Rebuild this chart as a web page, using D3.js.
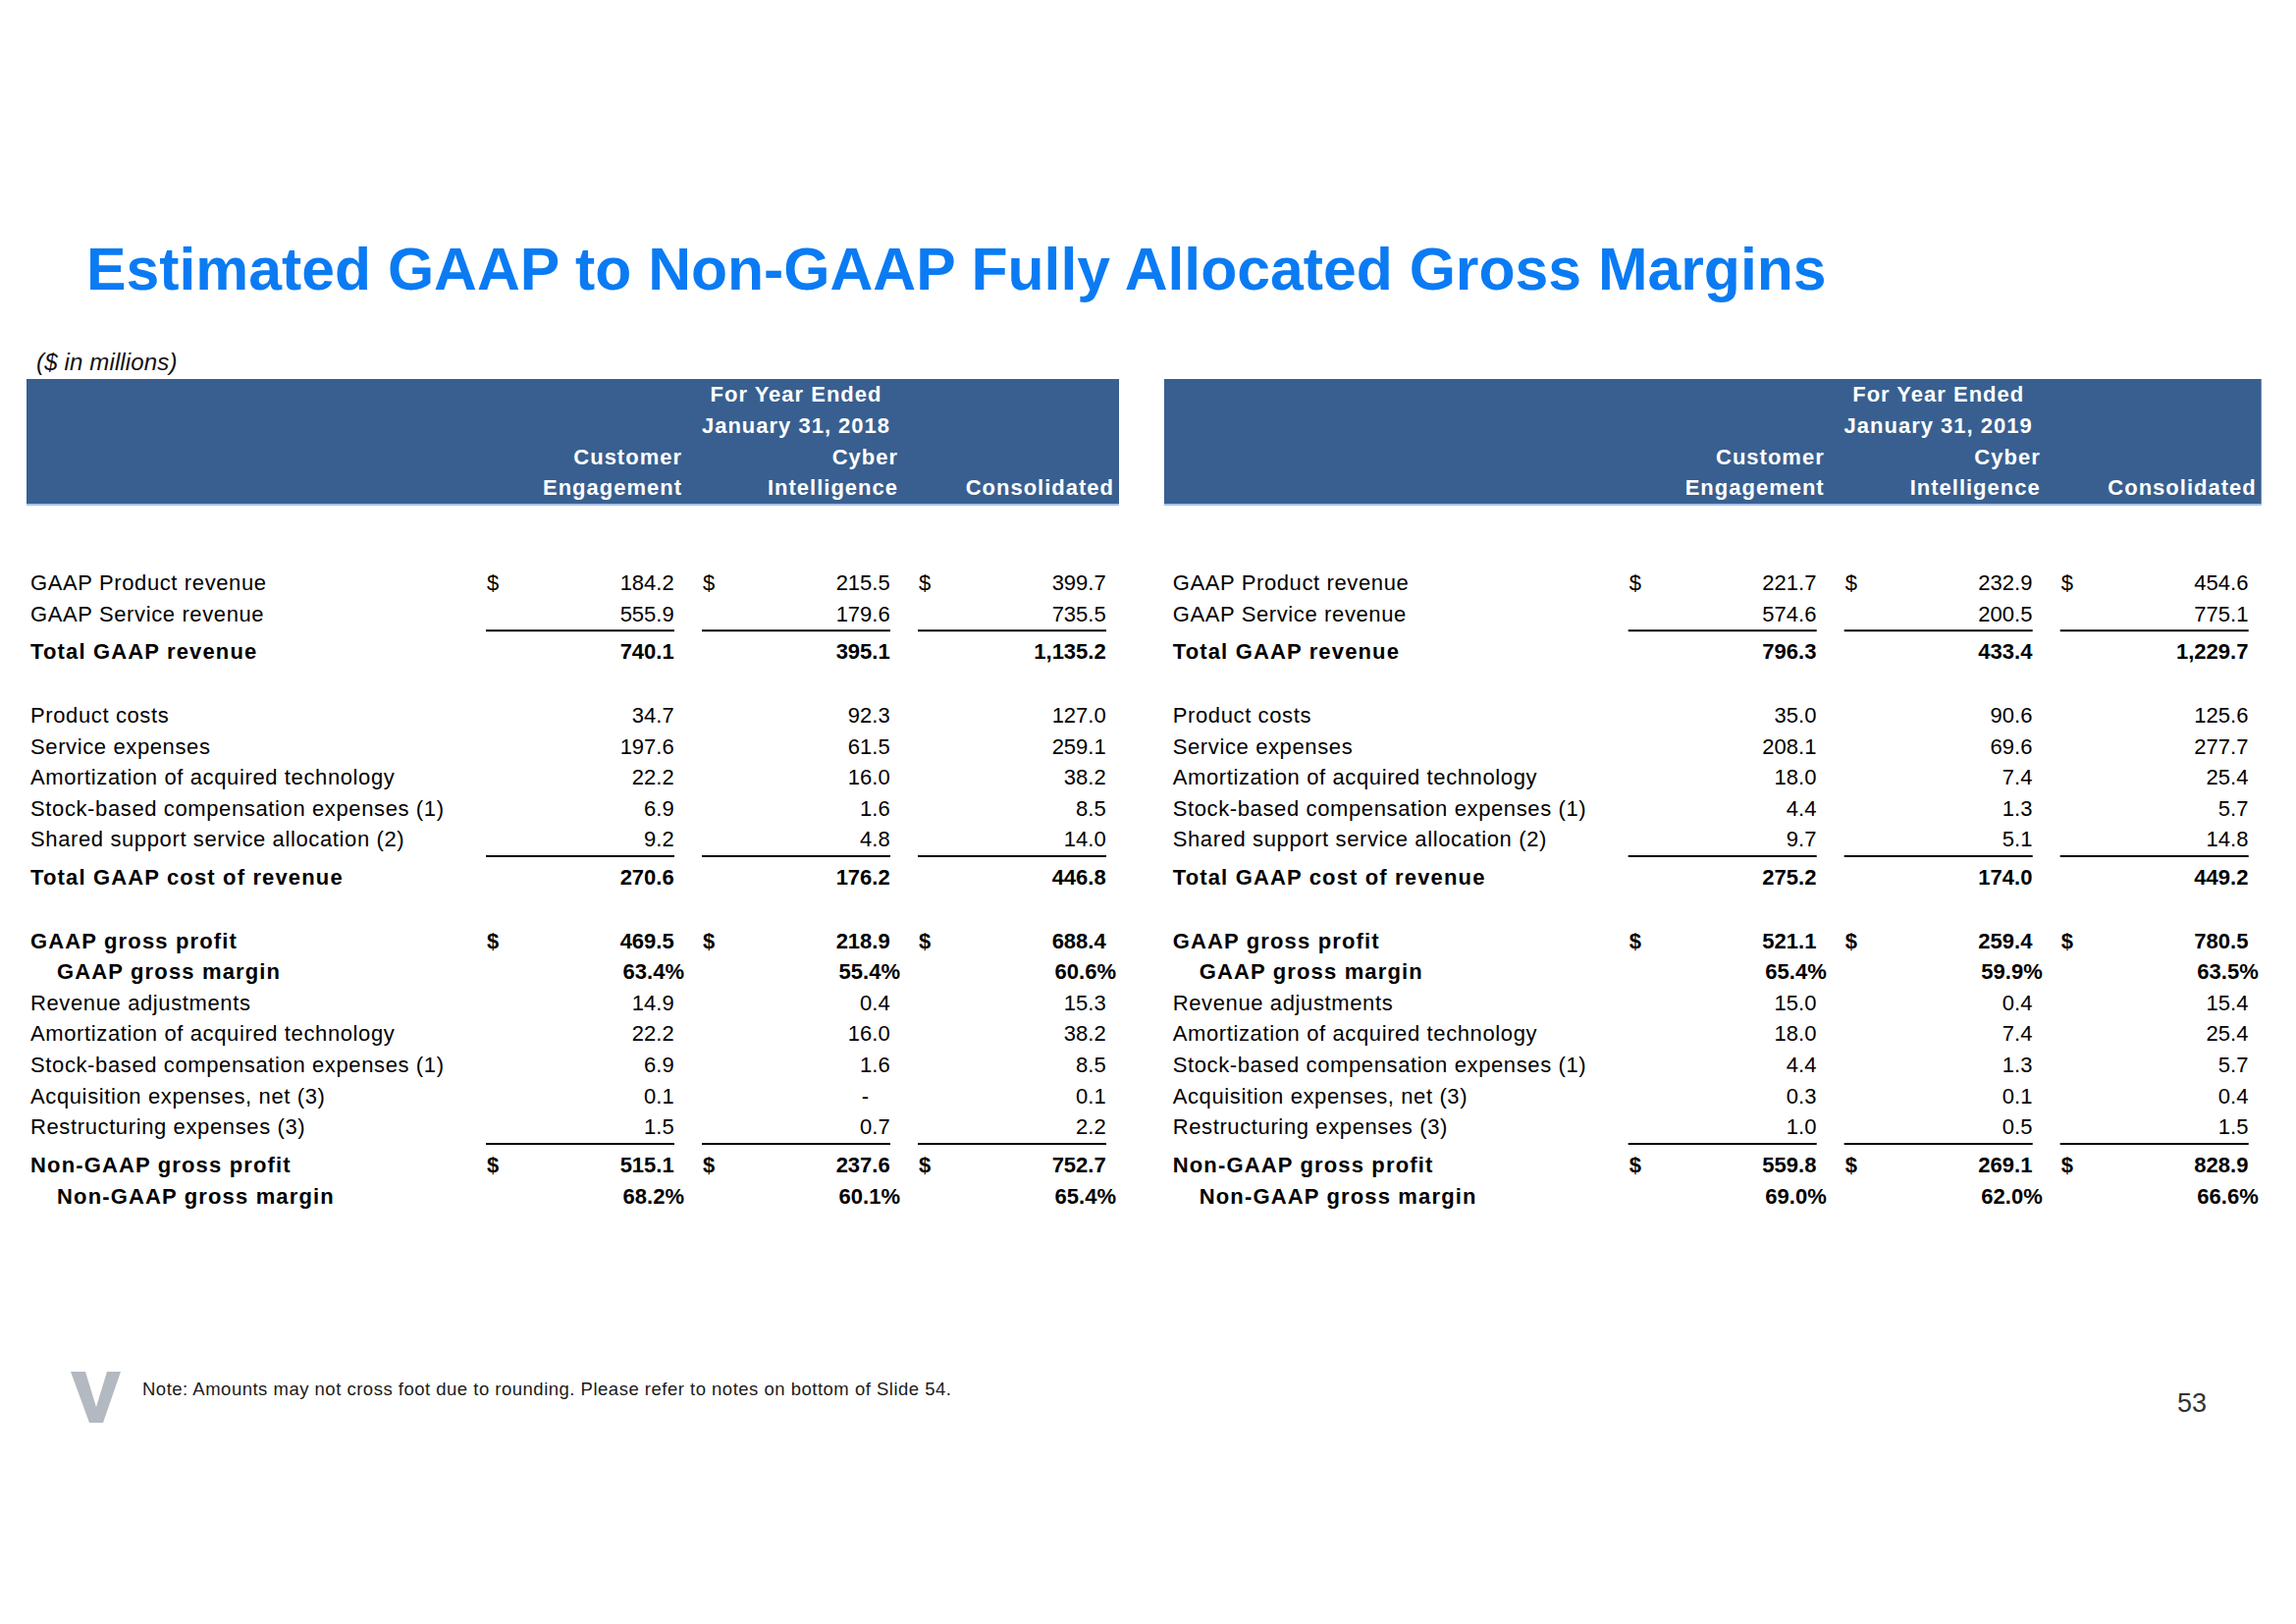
<!DOCTYPE html>
<html><head><meta charset="utf-8">
<script src="https://cdn.jsdelivr.net/npm/d3@7"></script>
<style>
html,body{margin:0;padding:0;background:#fff;}
svg{display:block;}
</style></head><body>
<svg id="chart" width="2339" height="1654"></svg>
<script>
// ---------------- DATA ----------------
const title = "Estimated GAAP to Non-GAAP Fully Allocated Gross Margins";
const unitNote = "($ in millions)";
const footnote = "Note: Amounts may not cross foot due to rounding. Please refer to notes on bottom of Slide 54.";
const pageNumber = "53";
const periodLabels = [["For Year Ended", "January 31, 2018"], ["For Year Ended", "January 31, 2019"]];
const segmentLabels = [["Customer", "Engagement"], ["Cyber", "Intelligence"], ["", "Consolidated"]];
const rowLabels = [
  "GAAP Product revenue",
  "GAAP Service revenue",
  "Total GAAP revenue",
  "Product costs",
  "Service expenses",
  "Amortization of acquired technology",
  "Stock-based compensation expenses (1)",
  "Shared support service allocation (2)",
  "Total GAAP cost of revenue",
  "GAAP gross profit",
  "GAAP gross margin",
  "Revenue adjustments",
  "Amortization of acquired technology",
  "Stock-based compensation expenses (1)",
  "Acquisition expenses, net (3)",
  "Restructuring expenses (3)",
  "Non-GAAP gross profit",
  "Non-GAAP gross margin"
];
const fy2018CustomerEngagement = [184.2, 555.9, 740.1, 34.7, 197.6, 22.2, 6.9, 9.2, 270.6, 469.5, 63.4, 14.9, 22.2, 6.9, 0.1, 1.5, 515.1, 68.2];
const fy2018CyberIntelligence  = [215.5, 179.6, 395.1, 92.3, 61.5, 16.0, 1.6, 4.8, 176.2, 218.9, 55.4, 0.4, 16.0, 1.6, null, 0.7, 237.6, 60.1];
const fy2018Consolidated       = [399.7, 735.5, 1135.2, 127.0, 259.1, 38.2, 8.5, 14.0, 446.8, 688.4, 60.6, 15.3, 38.2, 8.5, 0.1, 2.2, 752.7, 65.4];
const fy2019CustomerEngagement = [221.7, 574.6, 796.3, 35.0, 208.1, 18.0, 4.4, 9.7, 275.2, 521.1, 65.4, 15.0, 18.0, 4.4, 0.3, 1.0, 559.8, 69.0];
const fy2019CyberIntelligence  = [232.9, 200.5, 433.4, 90.6, 69.6, 7.4, 1.3, 5.1, 174.0, 259.4, 59.9, 0.4, 7.4, 1.3, 0.1, 0.5, 269.1, 62.0];
const fy2019Consolidated       = [454.6, 775.1, 1229.7, 125.6, 277.7, 25.4, 5.7, 14.8, 449.2, 780.5, 63.5, 15.4, 25.4, 5.7, 0.4, 1.5, 828.9, 66.6];

// ---------------- STRUCTURE / STYLE ----------------
const panels = [
  [fy2018CustomerEngagement, fy2018CyberIntelligence, fy2018Consolidated],
  [fy2019CustomerEngagement, fy2019CyberIntelligence, fy2019Consolidated]
];
const boldRows = new Set([2, 8, 9, 10, 16, 17]);
const indentRows = new Set([10, 17]);
const dollarRows = new Set([0, 9, 16]);
const percentRows = new Set([10, 17]);
const ruleAfter = new Set([1, 7, 15]);
const gapAfter = new Set([2, 8]);

const FONT = "'Liberation Sans', Arial, Helvetica, sans-serif";
const svg = d3.select("#chart");
svg.append("rect").attr("width", 2339).attr("height", 1654).attr("fill", "#fff");

// row baselines
const baselines = [];
{
  let y = 601;
  rowLabels.forEach((_, i) => {
    baselines.push(y);
    y += ruleAfter.has(i) ? 38.8 : gapAfter.has(i) ? 64.5 : 31.6;
  });
}
const yRow = d3.scaleOrdinal().domain(d3.range(rowLabels.length)).range(baselines);
const panelX = d3.scaleOrdinal().domain([0, 1]).range([0, 1163.7]);
const colEdge = d3.scaleLinear().domain([0, 2]).range([694, 1134]);
const numFmt = d3.format(",.1f");

// title
svg.append("text").attr("x", 88).attr("y", 295)
  .attr("font-family", FONT).attr("font-size", 60.7).attr("font-weight", "bold")
  .attr("fill", "#0B7BF3").text(title);

svg.append("text").attr("x", 37).attr("y", 377)
  .attr("font-family", FONT).attr("font-size", 24).attr("font-style", "italic")
  .attr("letter-spacing", 0.15)
  .attr("fill", "#111").text(unitNote);

panels.forEach((cols, p) => {
  const off = panelX(p);
  const g = svg.append("g").attr("transform", `translate(${off},0)`);
  const boxL = p === 0 ? 27 : 1186 - off;
  // header box
  g.append("rect").attr("x", boxL).attr("y", 386)
    .attr("width", colEdge(2) + 6 - boxL).attr("height", 128)
    .attr("fill", "#385F90");
  g.append("line").attr("x1", boxL).attr("x2", colEdge(2) + 6)
    .attr("y1", 514).attr("y2", 514).attr("stroke", "#A9C3E6").attr("stroke-width", 2);
  const hdr = (x, y, t, anchor) => g.append("text").attr("x", x).attr("y", y)
    .attr("text-anchor", anchor).attr("font-family", FONT).attr("font-size", 22)
    .attr("font-weight", "bold").attr("letter-spacing", 1).attr("fill", "#fff").text(t);
  hdr(colEdge(1) - 103, 409, periodLabels[p][0], "middle");
  hdr(colEdge(1) - 103, 441, periodLabels[p][1], "middle");
  segmentLabels.forEach((s, k) => {
    hdr(colEdge(k) + 1, 473, s[0], "end");
    hdr(colEdge(k) + 1, 504, s[1], "end");
  });

  // labels
  rowLabels.forEach((lab, i) => {
    const b = boldRows.has(i);
    g.append("text").attr("x", indentRows.has(i) ? 58 : 31).attr("y", yRow(i))
      .attr("font-family", FONT).attr("font-size", 22)
      .attr("font-weight", b ? "bold" : "normal")
      .attr("letter-spacing", b ? 1.15 : 0.62)
      .attr("fill", "#000").text(lab);
  });

  // values
  cols.forEach((vals, k) => {
    const e = colEdge(k);
    vals.forEach((v, i) => {
      const b = boldRows.has(i);
      const isPct = percentRows.has(i);
      const t = g.append("text").attr("y", yRow(i)).attr("text-anchor", "end")
        .attr("font-family", FONT).attr("font-size", 22)
        .attr("font-weight", b ? "bold" : "normal").attr("fill", "#000");
      if (v === null) {
        t.attr("x", e - 29).text("-");
      } else if (isPct) {
        t.attr("x", e + 3).text(numFmt(v) + "%");
      } else {
        t.attr("x", e - 7.3).text(numFmt(v));
      }
      if (dollarRows.has(i)) {
        g.append("text").attr("x", e - 198).attr("y", yRow(i))
          .attr("font-family", FONT).attr("font-size", 22)
          .attr("font-weight", b ? "bold" : "normal").attr("fill", "#000").text("$");
      }
      if (ruleAfter.has(i)) {
        g.append("line").attr("x1", e - 199).attr("x2", e - 7)
          .attr("y1", yRow(i) + 9.7).attr("y2", yRow(i) + 9.7)
          .attr("stroke", "#000").attr("stroke-width", 2);
      }
    });
  });
});

// footer
svg.append("path")
  .attr("d", "M72,1397 L87,1397 L98,1433 L109,1397 L123,1397 L105,1449 L91,1449 Z")
  .attr("fill", "#B3B9C0");
svg.append("text").attr("x", 145).attr("y", 1421)
  .attr("font-family", FONT).attr("font-size", 18.5).attr("letter-spacing", 0.5)
  .attr("fill", "#1a1a1a").text(footnote);
svg.append("text").attr("x", 2248).attr("y", 1438).attr("text-anchor", "end")
  .attr("font-family", FONT).attr("font-size", 27).attr("fill", "#333").text(pageNumber);
</script>
</body></html>
